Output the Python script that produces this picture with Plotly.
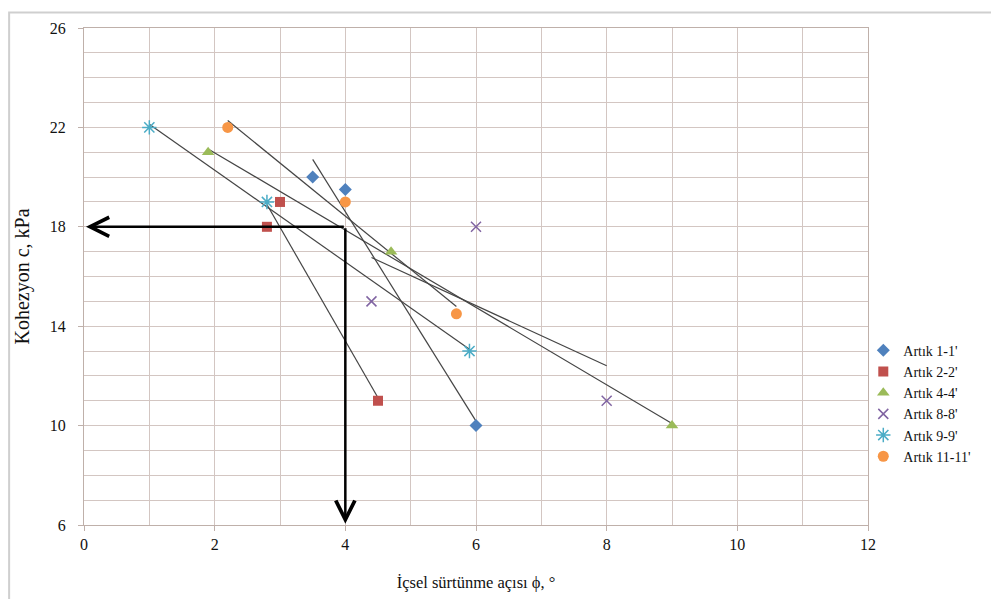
import numpy as np
import plotly.graph_objects as go

series_names = ["Artık 1-1'", "Artık 2-2'", "Artık 4-4'", "Artık 8-8'", "Artık 9-9'", "Artık 11-11'"]
phi_1 = [3.5, 4.0, 6.0]
c_1 = [20.0, 19.5, 10.0]
phi_2 = [2.8, 3.0, 4.5]
c_2 = [18.0, 19.0, 11.0]
phi_4 = [1.9, 4.7, 9.0]
c_4 = [21.0, 17.0, 10.0]
phi_8 = [4.4, 6.0, 8.0]
c_8 = [15.0, 18.0, 11.0]
phi_9 = [1.0, 2.8, 5.9]
c_9 = [22.0, 19.0, 13.0]
phi_11 = [2.2, 4.0, 5.7]
c_11 = [22.0, 19.0, 14.5]

# value with the arrows
phi_read = 4.0
c_read = 18.0

x_ticks = [0, 2, 4, 6, 8, 10, 12]
y_ticks = [6, 10, 14, 18, 22, 26]

colors = ["#4F81BD", "#C0504D", "#9BBB59", "#8064A2", "#4BACC6", "#F79646"]
symbols = ["diamond", "square", "triangle-up", "x-thin-open", "asterisk-open", "circle"]
sizes = [10, 10, 11, 10, 12, 11]

xs = [phi_1, phi_2, phi_4, phi_8, phi_9, phi_11]
ys = [c_1, c_2, c_4, c_8, c_9, c_11]

fig = go.Figure()

# trendlines first (underneath markers)
for x, y in zip(xs, ys):
    k, b = np.polyfit(x, y, 1)
    xl = np.array([min(x), max(x)])
    fig.add_trace(go.Scatter(x=xl, y=k * xl + b, mode="lines",
                             line=dict(color="#454545", width=1.2),
                             showlegend=False, hoverinfo="skip"))

for name, x, y, col, sym, sz in zip(series_names, xs, ys, colors, symbols, sizes):
    mk = dict(color=col, symbol=sym, size=sz)
    if sym.endswith("open"):
        mk["line"] = dict(color=col, width=1.5)
    fig.add_trace(go.Scatter(x=x, y=y, mode="markers", name=name, marker=mk))

grid_col = "#D3C6C2"
axis_font = dict(family="Liberation Serif", size=16, color="#111111")

fig.update_xaxes(range=[0, 12], tickvals=x_ticks, showgrid=True, gridcolor=grid_col, gridwidth=1,
                 minor=dict(dtick=1, showgrid=True, gridcolor=grid_col, gridwidth=1),
                 showline=True, linecolor="#BFB0AA", linewidth=1, mirror=True,
                 ticks="outside", ticklen=5, tickcolor="#BFB0AA",
                 tickfont=axis_font, zeroline=False,
                 title=dict(text="İçsel sürtünme açısı ϕ, °",
                            font=dict(family="Liberation Serif", size=16.5, color="#111111"), standoff=24))
fig.update_yaxes(range=[6, 26], tickvals=y_ticks, showgrid=True, gridcolor=grid_col, gridwidth=1,
                 minor=dict(dtick=1, showgrid=True, gridcolor=grid_col, gridwidth=1),
                 showline=True, linecolor="#BFB0AA", linewidth=1, mirror=True,
                 ticks="outside", ticklen=5, tickcolor="#BFB0AA", ticklabelstandoff=9,
                 tickfont=axis_font, zeroline=False,
                 title=dict(text="Kohezyon c, kPa",
                            font=dict(family="Liberation Serif", size=20, color="#111111"), standoff=14))

# arrows
fig.add_annotation(x=0.03, y=c_read, ax=phi_read, ay=c_read, xref="x", yref="y", axref="x", ayref="y",
                   text="", showarrow=True, arrowhead=5, arrowsize=1.5, arrowwidth=2.5, arrowcolor="#000000")
fig.add_annotation(x=phi_read, y=6.05, ax=phi_read, ay=c_read, xref="x", yref="y", axref="x", ayref="y",
                   text="", showarrow=True, arrowhead=5, arrowsize=1.5, arrowwidth=2.5, arrowcolor="#000000")

# outer frame
fig.add_shape(type="rect", xref="paper", yref="paper", x0=-0.0955, y0=-0.25, x1=1.25, y1=1.031,
              line=dict(color="#CFCFCF", width=2), layer="below")

fig.update_layout(
    width=999, height=599,
    margin=dict(l=76, r=139, t=17, b=82),
    paper_bgcolor="white", plot_bgcolor="white",
    legend=dict(x=0.994, y=0.383, xanchor="left", yanchor="top",
                font=dict(family="Liberation Serif", size=14, color="#111111"),
                bgcolor="rgba(0,0,0,0)", tracegroupgap=0),
    showlegend=True,
)

fig.write_html("out.html")
